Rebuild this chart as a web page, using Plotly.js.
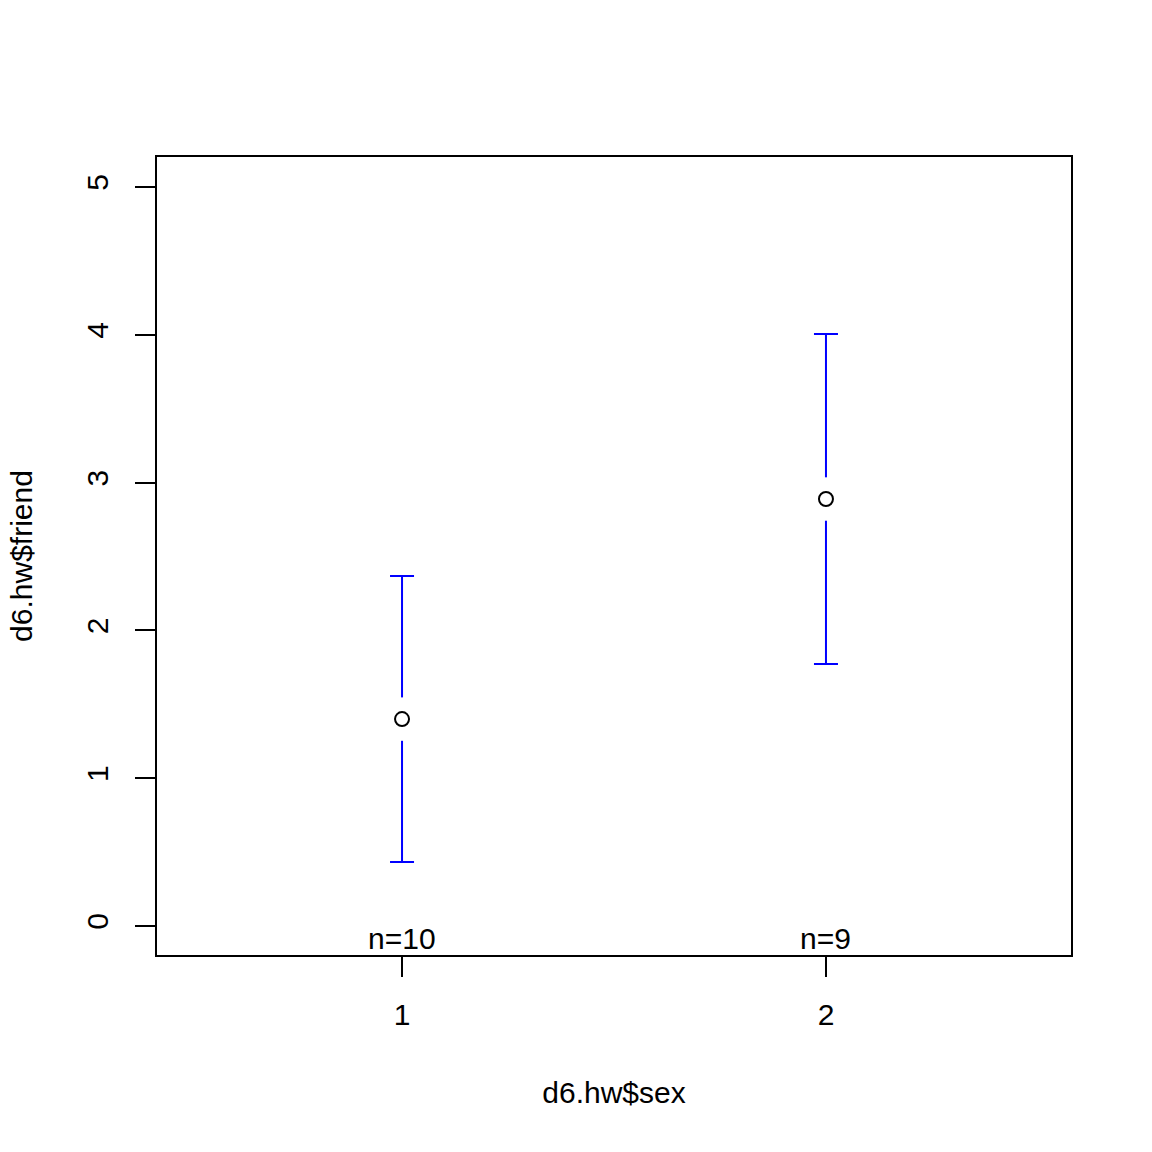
<!DOCTYPE html>
<html>
<head>
<meta charset="utf-8">
<script src="https://cdn.plot.ly/plotly-3.0.1.min.js"></script>
<style>html,body{margin:0;padding:0;background:#fff;}#chart{width:1152px;height:1152px;}</style>
</head>
<body>
<div id="chart"></div>
<script>
// Data (plotmeans of d6.hw$friend by d6.hw$sex)
const groups = [1, 2];
const groupLabels = ['1', '2'];
const means = [1.40, 2.889];
const lower = [0.433, 1.773];
const upper = [2.368, 4.005];
const counts = [10, 9];
const yTicks = [0, 1, 2, 3, 4, 5];

const font = 'Liberation Sans, Arial, Helvetica, sans-serif';
const fs = 30;

const errPlus = upper.map((u, i) => u - means[i]);
const errMinus = means.map((m, i) => m - lower[i]);

const traces = [
  {
    x: groups, y: means, type: 'scatter', mode: 'markers',
    error_y: {type: 'data', symmetric: false, array: errPlus, arrayminus: errMinus,
              color: '#0000ff', thickness: 2, width: 12},
    marker: {symbol: 'line-ns', size: 31, color: '#ffffff', line: {color: '#ffffff', width: 6}},
    hoverinfo: 'skip', showlegend: false
  },
  {
    x: groups, y: means, type: 'scatter', mode: 'markers',
    marker: {symbol: 'circle-open', size: 14, color: '#000000', line: {color: '#000000', width: 2}},
    showlegend: false
  }
];

const annotations = groups.map((g, i) => ({
  x: g, xref: 'x', y: 0, yref: 'paper', yanchor: 'bottom', xanchor: 'center',
  text: 'n=' + counts[i], showarrow: false, yshift: -2,
  font: {family: font, size: fs, color: '#000'}
}));

const layout = {
  width: 1152, height: 1152,
  paper_bgcolor: '#ffffff', plot_bgcolor: '#ffffff',
  margin: {l: 157, r: 81, t: 157, b: 197, pad: 0},
  showlegend: false,
  font: {family: font, size: fs, color: '#000'},
  xaxis: {
    range: [0.422, 2.578], tickvals: groups, ticktext: groupLabels,
    showgrid: false, zeroline: false,
    showline: true, mirror: true, linecolor: '#000', linewidth: 2,
    ticks: 'outside', ticklen: 20, tickwidth: 2, tickcolor: '#000',
    ticklabelstandoff: 12,
    tickfont: {family: font, size: fs, color: '#000'},
    title: {text: 'd6.hw$sex', font: {family: font, size: fs, color: '#000'}, standoff: 52}
  },
  yaxis: {
    range: [-0.196, 5.203], tickvals: yTicks, ticktext: yTicks.map(String),
    tickangle: -90,
    showgrid: false, zeroline: false,
    showline: true, mirror: true, linecolor: '#000', linewidth: 2,
    ticks: 'outside', ticklen: 20, tickwidth: 2, tickcolor: '#000',
    ticklabelstandoff: 15,
    tickfont: {family: font, size: fs, color: '#000'},
    title: {text: 'd6.hw$friend', font: {family: font, size: fs, color: '#000'}, standoff: 40}
  },
  annotations: annotations
};

Plotly.newPlot('chart', traces, layout, {staticPlot: true, displayModeBar: false});
</script>
</body>
</html>
